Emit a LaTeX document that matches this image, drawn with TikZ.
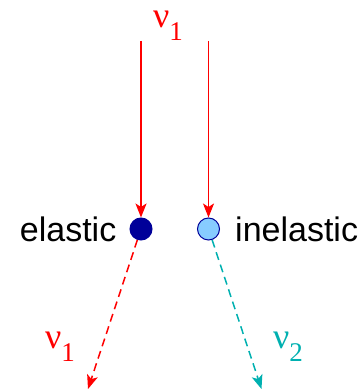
\documentclass[tikz,border=0pt]{standalone}
\usepackage{fontspec}
\setmainfont{Liberation Sans}
\newfontfamily\grk{Liberation Serif}
\usepackage{tikz}
\usetikzlibrary{arrows.meta, positioning}
\definecolor{nured}{rgb}{1,0,0}
\definecolor{nuteal}{rgb}{0,0.69,0.69}
\definecolor{navy}{rgb}{0,0,0.6}
\definecolor{skyb}{rgb}{0.53,0.8,1}
\newcommand{\nuof}[1]{{\grk\fontsize{36}{36}\selectfont ν\raisebox{-13pt}{\fontsize{27}{27}\selectfont #1}}}
\tikzset{
  elv/.style     ={draw=navy, circle, minimum size=22pt, inner sep=0pt, fill=navy, line width=1pt},
  inelv/.style   ={draw=navy, circle, minimum size=22pt, inner sep=0pt, fill=skyb, line width=1pt},
  word/.style    ={font=\fontsize{34}{40}\selectfont, inner sep=0pt},
  nulbl/.style   ={inner sep=0pt, anchor=base west},
  inedge/.style  ={-{Stealth[length=14pt, width=11pt, inset=3.5pt]}, line width=1.5pt, nured},
  outedge/.style ={-{Stealth[length=14pt, width=11pt, inset=3.5pt]}, line width=1.5pt, dash pattern=on 8pt off 5pt},
}
\begin{document}
\begin{tikzpicture}[x=1pt, y=1pt]
  \useasboundingbox (0,0) rectangle (360,390);
  % vertices
  \node[elv] (el) at (141,161) {};
  \node[inelv] (inel) at (208.5,161) {};
  \node[word, left=13pt of el] (tel) {elastic};
  \node[word, right=15pt of inel] (tinel) {inelastic};

  % incoming
  \node[nulbl, text=nured] (nuin) at (153,362) {\nuof{1}};
  \coordinate (elin) at (141,349); \coordinate (inelin) at (208.5,349);
  \draw[inedge] (elin) -- (el); \draw[inedge] (inelin) -- (inel);

  % outgoing
  \coordinate (elout) at (88,1); \coordinate (inelout) at (261.5,1);
  \draw[outedge, nured] (el) -- (elout); \draw[outedge, nuteal] (inel) -- (inelout);
  \node[nulbl, text=nured] (nuel) at (45,41) {\nuof{1}};
  \node[nulbl, text=nuteal] (nuinel) at (273,41) {\nuof{2}};
\end{tikzpicture}
\end{document}
